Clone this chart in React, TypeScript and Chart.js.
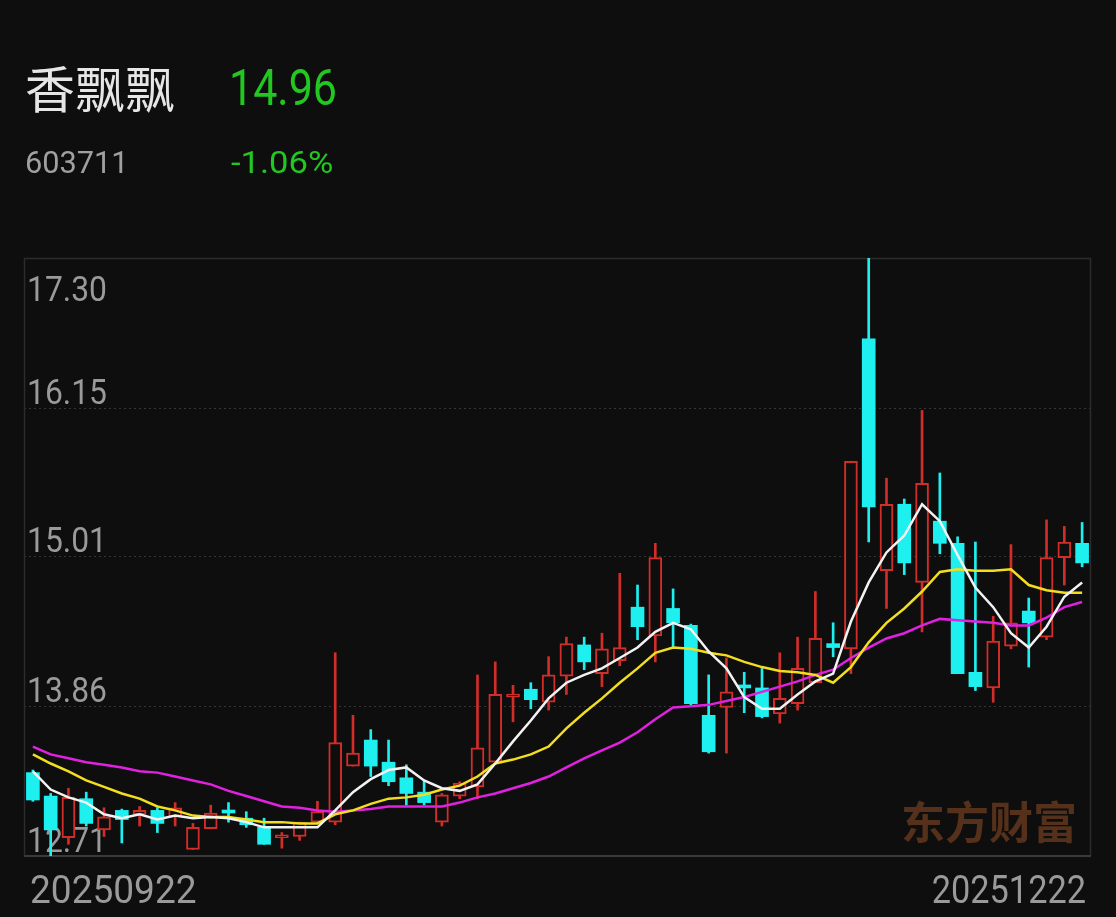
import React, { useEffect, useRef } from "react";
import { Chart, registerables } from "chart.js";

Chart.register(...registerables);

const dates = [
  "20250922", "20250923", "20250924", "20250925", "20250926", "20250929", "20250930",
  "20251009", "20251010", "20251013", "20251014", "20251015", "20251016", "20251017",
  "20251020", "20251021", "20251022", "20251023", "20251024", "20251027", "20251028",
  "20251029", "20251030", "20251031", "20251103", "20251104", "20251105", "20251106",
  "20251107", "20251110", "20251111", "20251112", "20251113", "20251114", "20251117",
  "20251118", "20251119", "20251120", "20251121", "20251124", "20251125", "20251126",
  "20251127", "20251128", "20251201", "20251202", "20251203", "20251204", "20251205",
  "20251208", "20251209", "20251210", "20251211", "20251212", "20251215", "20251216",
  "20251217", "20251218", "20251219", "20251222",
];

const opens = [
  13.35, 13.17, 12.85, 13.15, 12.91, 13.06, 13.03, 13.06, 13.01, 12.76,
  12.92, 13.06, 13.0, 12.93, 12.85, 12.86, 12.97, 12.97, 13.4, 13.6,
  13.43, 13.31, 13.2, 12.97, 13.17, 13.24, 13.43, 13.93, 13.99, 13.89,
  14.09, 14.33, 14.11, 14.21, 14.62, 14.4, 14.61, 14.48, 13.79, 13.85,
  14.02, 14.0, 13.8, 13.88, 14.04, 14.34, 14.3, 16.68, 14.9, 15.41,
  14.81, 15.28, 15.11, 14.12, 14.0, 14.32, 14.59, 14.39, 15.0, 15.11,
];
const highs = [
  13.37, 13.19, 13.23, 13.2, 13.08, 13.07, 13.09, 13.08, 13.12, 12.96,
  13.1, 13.12, 13.05, 13.0, 12.89, 12.97, 13.13, 14.27, 13.79, 13.68,
  13.6, 13.41, 13.29, 13.19, 13.28, 14.1, 14.2, 14.02, 14.04, 14.24,
  14.39, 14.39, 14.42, 14.88, 14.79, 15.11, 14.76, 14.49, 14.1, 14.23,
  14.12, 14.15, 14.27, 14.39, 14.74, 14.5, 15.74, 17.3, 15.61, 15.45,
  16.13, 15.65, 15.16, 15.12, 14.55, 15.1, 14.69, 15.29, 15.24, 15.27,
];
const lows = [
  13.13, 12.71, 12.8, 12.94, 12.86, 12.81, 12.94, 12.89, 12.94, 12.76,
  12.92, 12.97, 12.93, 12.8, 12.77, 12.83, 12.97, 12.95, 13.4, 13.32,
  13.25, 13.1, 13.1, 12.94, 13.15, 13.15, 13.43, 13.74, 13.84, 13.83,
  13.95, 14.14, 14.01, 14.17, 14.37, 14.2, 14.31, 13.87, 13.5, 13.5,
  13.81, 13.77, 13.73, 13.83, 14.04, 14.24, 14.11, 15.12, 14.61, 14.87,
  14.43, 15.03, 14.11, 13.98, 13.89, 14.3, 14.16, 14.37, 14.79, 14.93,
];
const closes = [
  13.14, 12.91, 13.16, 12.96, 13.01, 12.99, 13.06, 12.96, 13.08, 12.93,
  13.04, 13.04, 12.95, 12.8, 12.86, 12.97, 13.05, 13.58, 13.5, 13.4,
  13.28, 13.19, 13.12, 13.18, 13.27, 13.54, 13.95, 13.95, 13.91, 14.1,
  14.34, 14.2, 14.3, 14.31, 14.47, 15.0, 14.5, 13.88, 13.51, 13.97,
  14.0, 13.78, 13.92, 14.15, 14.38, 14.31, 15.74, 15.39, 15.41, 14.96,
  15.57, 15.11, 14.11, 14.01, 14.36, 14.5, 14.5, 15.0, 15.12, 14.96,
];

const ma5 = [
  13.36, 13.22, 13.16, 13.12, 13.03, 13.0, 13.03, 12.99, 13.02, 13.0,
  13.01, 13.0, 12.97, 12.93, 12.93, 12.93, 12.93, 13.06, 13.2, 13.3,
  13.37, 13.39, 13.29, 13.23, 13.21, 13.26, 13.42, 13.59, 13.75, 13.92,
  14.04, 14.1, 14.15, 14.23, 14.31, 14.43, 14.5, 14.45, 14.28, 14.15,
  13.93, 13.84, 13.84, 13.95, 14.05, 14.11, 14.51, 14.81, 15.04, 15.17,
  15.41, 15.28, 15.02, 14.77, 14.62, 14.42, 14.31, 14.47, 14.7, 14.81,
];
const ma10 = [
  13.49, 13.42, 13.36, 13.29, 13.24, 13.19, 13.15, 13.09, 13.06, 13.02,
  13.01, 13.01, 12.99, 12.97, 12.97, 12.96, 12.96, 13.03, 13.06, 13.11,
  13.15, 13.16, 13.18, 13.22, 13.25, 13.32, 13.42, 13.45, 13.49, 13.55,
  13.69, 13.81, 13.92, 14.04, 14.15, 14.27, 14.31, 14.3, 14.27, 14.25,
  14.2, 14.16, 14.13, 14.12, 14.1, 14.04, 14.16, 14.35, 14.5, 14.61,
  14.74, 14.89, 14.91, 14.9, 14.9, 14.91, 14.79, 14.75, 14.73, 14.73,
];
const ma20 = [
  13.55, 13.49, 13.46, 13.43, 13.41, 13.39, 13.36, 13.35, 13.32, 13.29,
  13.26, 13.21, 13.17, 13.13, 13.09, 13.08, 13.06, 13.05, 13.06, 13.07,
  13.09, 13.09, 13.09, 13.09, 13.12, 13.16, 13.19, 13.23, 13.27, 13.32,
  13.39, 13.46, 13.52, 13.58, 13.66, 13.76, 13.85, 13.86, 13.87, 13.9,
  13.93, 13.97, 14.01, 14.05, 14.1, 14.14, 14.23, 14.31, 14.38, 14.42,
  14.48, 14.53, 14.52, 14.51, 14.5, 14.48, 14.48, 14.54, 14.62, 14.66,
];

const yTicks = [17.3, 16.15, 15.01, 13.86, 12.71];
const yMax = 17.3;
const yMin = 12.71;

const stockName = "香飘飘";
const stockCode = "603711";
const lastPrice = "14.96";
const changePct = "-1.06%";
const watermark = "东方财富";

const BG = "#0e0e0e";
const UP = "#d12d29";
const DOWN = "#1ef0f0";
const GREEN = "#22c722";

export default function App() {
  const ref = useRef<HTMLCanvasElement>(null);

  useEffect(() => {
    const canvas = ref.current;
    if (!canvas) return;
    const isUp = closes.map((c, i) => c >= opens[i]);

    const decor = {
      id: "decor",
      beforeDatasetsDraw(chart: any) {
        const { ctx, chartArea: a, scales } = chart;
        const ys = scales.y;
        ctx.save();
        // dotted grid lines
        ctx.strokeStyle = "#363636";
        ctx.lineWidth = 1;
        ctx.setLineDash([2, 3]);
        yTicks.forEach((v) => {
          if (v === yMax || v === yMin) return;
          const py = Math.round(ys.getPixelForValue(v)) + 0.5;
          ctx.beginPath();
          ctx.moveTo(a.left, py);
          ctx.lineTo(a.right, py);
          ctx.stroke();
        });
        ctx.setLineDash([]);
        // frame
        ctx.strokeStyle = "#2c2c2c";
        ctx.lineWidth = 1.5;
        ctx.beginPath();
        ctx.moveTo(a.left + 0.5, a.bottom);
        ctx.lineTo(a.left + 0.5, a.top + 0.5);
        ctx.lineTo(a.right - 0.5, a.top + 0.5);
        ctx.lineTo(a.right - 0.5, a.bottom);
        ctx.stroke();
        ctx.strokeStyle = "#3a3a3a";
        ctx.lineWidth = 2;
        ctx.beginPath();
        ctx.moveTo(a.left, a.bottom);
        ctx.lineTo(a.right, a.bottom);
        ctx.stroke();
        // y labels
        ctx.fillStyle = "#9a9a9a";
        ctx.font = '35px Roboto';
        ctx.textAlign = "left";
        ctx.textBaseline = "alphabetic";
        yTicks.forEach((v) => {
          const py = ys.getPixelForValue(v);
          const by = v === yMax ? py + 43 : py - 4;
          ctx.save();
          ctx.translate(a.left + 3, by);
          ctx.scale(0.91, 1);
          ctx.fillText(v.toFixed(2), 0, 0);
          ctx.restore();
        });
        // x labels
        ctx.font = '39px Roboto';
        ctx.save();
        ctx.translate(a.left + 6, a.bottom + 47);
        ctx.scale(0.95, 1);
        ctx.textAlign = "left";
        ctx.fillText(dates[0], 0, 0);
        ctx.restore();
        ctx.save();
        ctx.translate(a.right - 5, a.bottom + 47);
        ctx.scale(0.88, 1);
        ctx.textAlign = "right";
        ctx.fillText(dates[dates.length - 1], 0, 0);
        ctx.restore();
        // watermark
        ctx.fillStyle = "#55301b";
        ctx.font = 'bold 44px "Noto Sans CJK SC"';
        ctx.textAlign = "right";
        ctx.textBaseline = "middle";
        ctx.fillText(watermark, a.right - 14, a.bottom - 34);
        ctx.restore();
      },
    };

    const chart = new Chart(canvas, {
      type: "bar",
      data: {
        labels: dates,
        datasets: [
          {
            type: "line",
            label: "MA5",
            data: ma5,
            borderColor: "#f2f2f2",
            borderWidth: 2.5,
            pointRadius: 0,
            tension: 0,
            order: 0,
          } as any,
          {
            type: "line",
            label: "MA10",
            data: ma10,
            borderColor: "#f2de1e",
            borderWidth: 2.5,
            pointRadius: 0,
            tension: 0,
            order: 0,
          } as any,
          {
            type: "line",
            label: "MA20",
            data: ma20,
            borderColor: "#e022e0",
            borderWidth: 2.5,
            pointRadius: 0,
            tension: 0,
            order: 0,
          } as any,
          {
            type: "bar",
            label: "body",
            data: opens.map((o, i) => [o, closes[i]]),
            backgroundColor: isUp.map((u) => (u ? BG : DOWN)),
            borderColor: isUp.map((u) => (u ? UP : DOWN)),
            borderWidth: isUp.map((u) => (u ? 2 : 0)),
            borderSkipped: false,
            barThickness: 13,
            minBarLength: 3,
            grouped: false,
            order: 1,
          } as any,
          {
            type: "bar",
            label: "wick",
            data: lows.map((l, i) => [l, highs[i]]),
            backgroundColor: isUp.map((u) => (u ? UP : DOWN)),
            borderWidth: 0,
            barThickness: 2,
            grouped: false,
            order: 2,
          } as any,
        ],
      },
      options: {
        responsive: false,
        animation: false,
        devicePixelRatio: 1,
        events: [],
        layout: { padding: { left: 24, right: 25, top: 258, bottom: 61 } },
        scales: {
          x: { type: "category", display: false, offset: true },
          y: { type: "linear", display: false, min: yMin, max: yMax },
        },
        plugins: {
          legend: { display: false },
          tooltip: { enabled: false },
        },
      },
      plugins: [decor],
    });
    return () => chart.destroy();
  }, []);

  return (
    <div
      style={{
        position: "fixed",
        left: 0,
        top: 0,
        width: 1116,
        height: 917,
        background: BG,
        overflow: "hidden",
      }}
    >
      <canvas
        ref={ref}
        width={1116}
        height={917}
        style={{ position: "absolute", left: 0, top: 0, width: 1116, height: 917 }}
      />
      <div
        style={{
          position: "absolute",
          left: 25,
          top: 61,
          fontFamily: '"Noto Sans CJK SC", sans-serif',
          fontSize: 50,
          lineHeight: "50px",
          color: "#e6e6e6",
          whiteSpace: "nowrap",
        }}
      >
        {stockName}
      </div>
      <div
        style={{
          position: "absolute",
          left: 229,
          top: 63,
          fontFamily: "Roboto, sans-serif",
          fontSize: 50,
          lineHeight: "50px",
          color: GREEN,
          whiteSpace: "nowrap",
          transform: "scaleX(0.86)",
          transformOrigin: "left top",
        }}
      >
        {lastPrice}
      </div>
      <div
        style={{
          position: "absolute",
          left: 25,
          top: 146,
          fontFamily: "Roboto, sans-serif",
          fontSize: 32,
          lineHeight: "32px",
          color: "#a0a0a0",
          whiteSpace: "nowrap",
          transform: "scaleX(0.96)",
          transformOrigin: "left top",
        }}
      >
        {stockCode}
      </div>
      <div
        style={{
          position: "absolute",
          left: 231,
          top: 146,
          fontFamily: "Roboto, sans-serif",
          fontSize: 32,
          lineHeight: "32px",
          color: GREEN,
          whiteSpace: "nowrap",
          transform: "scaleX(1.08)",
          transformOrigin: "left top",
        }}
      >
        {changePct}
      </div>
    </div>
  );
}
